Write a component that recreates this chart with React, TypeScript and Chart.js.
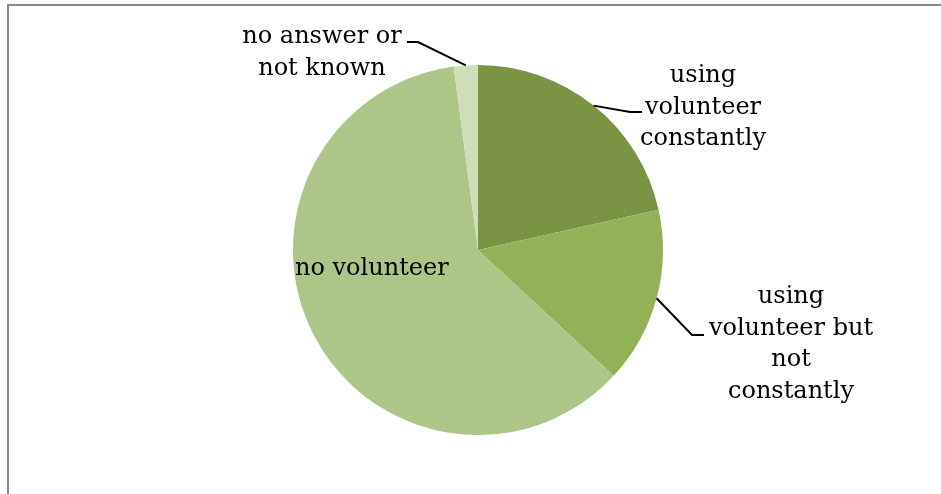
import React, { useEffect, useRef } from "react";
import { Chart, registerables } from "chart.js";

Chart.register(...registerables);

const categories = [
  "using volunteer constantly",
  "using volunteer but not constantly",
  "no volunteer",
  "no answer or not known",
];
const values = [21.5, 15.4, 61.0, 2.1];
const labelLines = [
  ["using", "volunteer", "constantly"],
  ["using", "volunteer but", "not", "constantly"],
  ["no volunteer"],
  ["no answer or", "not known"],
];
const colors = ["#7a9444", "#93b156", "#adc687", "#d0ddbb"];

const FONT = '24px "DejaVu Serif"';
const LINE_H = 31.5;

// layout: text anchor (x, first baseline, align) and leader bend points
const labelLayout = [
  { x: 703, y: 82, align: "center", leader: [[630, 112], [642, 112]] },
  { x: 791, y: 303, align: "center", leader: [[692, 335], [704, 335]] },
  { x: 295, y: 275, align: "left", leader: null },
  { x: 322, y: 43, align: "center", leader: [[418, 42], [407, 42]] },
];

const decorPlugin = {
  id: "decor",
  beforeDraw(chart: any) {
    const ctx = chart.ctx;
    ctx.save();
    ctx.fillStyle = "#ffffff";
    ctx.fillRect(0, 0, chart.width, chart.height);
    ctx.strokeStyle = "#8a8a8a";
    ctx.lineWidth = 2;
    ctx.beginPath();
    ctx.moveTo(8, chart.height + 10);
    ctx.lineTo(8, 5);
    ctx.lineTo(chart.width + 10, 5);
    ctx.stroke();
    ctx.restore();
  },
  afterDatasetsDraw(chart: any) {
    const ctx = chart.ctx;
    const meta = chart.getDatasetMeta(0);
    ctx.save();
    ctx.font = FONT;
    ctx.fillStyle = "#000000";
    ctx.textBaseline = "alphabetic";
    meta.data.forEach((arc: any, i: number) => {
      const lay = labelLayout[i];
      const lines = labelLines[i];
      ctx.textAlign = lay.align;
      lines.forEach((t, k) => ctx.fillText(t, lay.x, lay.y + k * LINE_H));
      if (lay.leader) {
        const p = arc.getProps(["x", "y", "startAngle", "endAngle", "outerRadius"], true);
        const mid = (p.startAngle + p.endAngle) / 2;
        const sx = p.x + p.outerRadius * Math.cos(mid);
        const sy = p.y + p.outerRadius * Math.sin(mid);
        ctx.strokeStyle = "#000000";
        ctx.lineWidth = 2;
        ctx.beginPath();
        ctx.moveTo(sx, sy);
        lay.leader.forEach(([x, y]) => ctx.lineTo(x, y));
        ctx.stroke();
      }
    });
    ctx.restore();
  },
};

export default function App() {
  const ref = useRef<HTMLCanvasElement>(null);
  useEffect(() => {
    if (!ref.current) return;
    const chart = new Chart(ref.current, {
      type: "pie",
      data: {
        labels: categories,
        datasets: [
          {
            data: values,
            backgroundColor: colors,
            borderWidth: 0,
          },
        ],
      },
      options: {
        responsive: false,
        animation: false,
        layout: { padding: { top: 65, bottom: 59, left: 100, right: 85 } },
        plugins: {
          legend: { display: false },
          tooltip: { enabled: false },
        },
      },
      plugins: [decorPlugin],
    });
    return () => chart.destroy();
  }, []);
  return (
    <canvas
      ref={ref}
      width={941}
      height={494}
      style={{ position: "absolute", left: 0, top: 0, display: "block" }}
    />
  );
}
